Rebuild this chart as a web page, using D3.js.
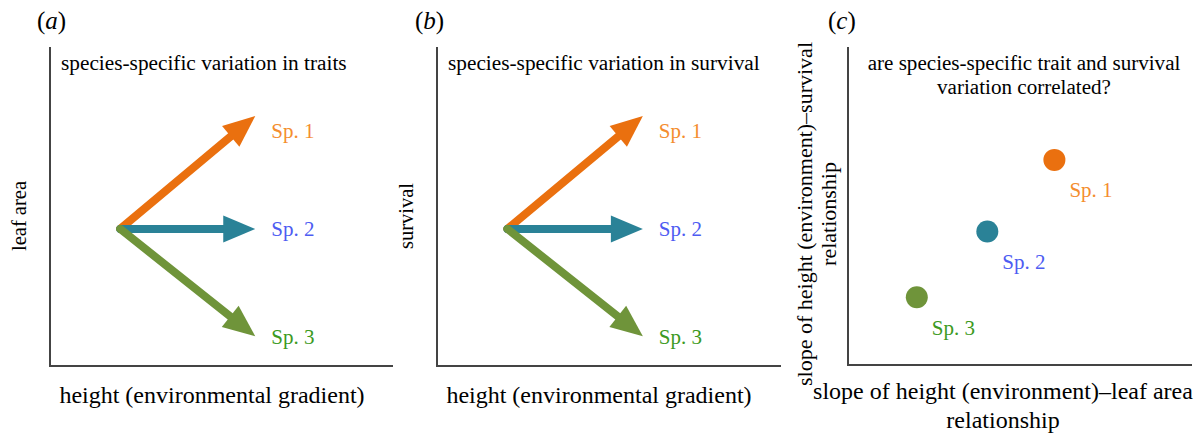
<!DOCTYPE html>
<html>
<head>
<meta charset="utf-8">
<script src="https://cdn.jsdelivr.net/npm/d3@7"></script>
<style>
  body { margin: 0; background: #fff; }
  svg text { font-family: "Liberation Serif", "DejaVu Serif", serif; }
</style>
</head>
<body>
<svg id="chart" width="1201" height="439"></svg>
<script>
// species and their colours
var species = ['Sp. 1', 'Sp. 2', 'Sp. 3'];
var arrowColors = ['#ea700f', '#2a8297', '#6f943a'];
var labelColors = ['#f48d2e', '#4e5cf2', '#3c9a22'];

// slope of trait / survival against height (arrow end points, start at 0,0)
var traitSlope = [1, 0, -0.95];
var survivalSlope = [1, 0, -0.95];

// panel (c): slope of leaf area vs slope of survival
var dotX = [6.0, 4.05, 2.0];
var dotY = [6.45, 4.2, 2.13];

var svg = d3.select('#chart');

function panelLetter(x, letter) {
    var t = svg.append('text').attr('x', x).attr('y', 29).attr('font-size', 25).attr('fill', '#000');
    t.append('tspan').text('(');
    t.append('tspan').attr('font-style', 'italic').text(letter);
    t.append('tspan').text(')');
}

function axesL(g, left, right, top, bottom) {
    g.append('path')
        .attr('d', 'M' + left + ',' + top + 'V' + bottom + 'H' + right)
        .attr('fill', 'none')
        .attr('stroke', '#444')
        .attr('stroke-width', 2);
}

function arrowPanel(left, right, title, yLabel, slopes, letterX, yLabelX) {
    var top = 47, bottom = 366;
    var g = svg.append('g');
    var x = d3.scaleLinear().domain([-0.52, 2.02]).range([left, right]);
    var y = d3.scaleLinear().domain([-1.213, 1.61]).range([bottom, top]);

    panelLetter(letterX, left === 50 ? 'a' : 'b');
    axesL(g, left, right, top, bottom);

    g.append('text').attr('x', left + 11).attr('y', 70)
        .attr('font-size', 21.3).attr('fill', '#000').text(title);

    g.append('text')
        .attr('transform', 'translate(' + yLabelX + ',' + 216 + ') rotate(-90)')
        .attr('text-anchor', 'middle').attr('font-size', 20.5).attr('fill', '#000')
        .text(yLabel);

    g.append('text').attr('x', left + 162).attr('y', 403)
        .attr('text-anchor', 'middle').attr('font-size', 24).attr('fill', '#000')
        .text('height (environmental gradient)');

    var headLen = 32, headHalf = 13.5;
    slopes.forEach(function (s, i) {
        var x0 = x(0), y0 = y(0), x1 = x(1), y1 = y(s);
        var ang = Math.atan2(y1 - y0, x1 - x0);
        var bx = x1 - headLen * Math.cos(ang), by = y1 - headLen * Math.sin(ang);
        g.append('line')
            .attr('x1', x0).attr('y1', y0)
            .attr('x2', bx + 2 * Math.cos(ang)).attr('y2', by + 2 * Math.sin(ang))
            .attr('stroke', arrowColors[i]).attr('stroke-width', 8)
            .attr('stroke-linecap', 'round');
        var px = -Math.sin(ang), py = Math.cos(ang);
        g.append('path')
            .attr('d', 'M' + x1 + ',' + y1 +
                'L' + (bx + px * headHalf) + ',' + (by + py * headHalf) +
                'L' + (bx - px * headHalf) + ',' + (by - py * headHalf) + 'Z')
            .attr('fill', arrowColors[i]);
        g.append('text')
            .attr('x', x1 + 16).attr('y', y(s) + (i === 0 ? 15 : 0))
            .attr('dy', '0.35em')
            .attr('font-size', 21).attr('fill', labelColors[i])
            .text(species[i]);
    });
}

arrowPanel(50, 393, 'species-specific variation in traits', 'leaf area', traitSlope, 37, 26);
arrowPanel(437, 781, 'species-specific variation in survival', 'survival', survivalSlope, 415, 413);

// panel (c)
(function () {
    var left = 848, right = 1192, top = 47, bottom = 365;
    var g = svg.append('g');
    var x = d3.scaleLinear().domain([0, 10]).range([left, right]);
    var y = d3.scaleLinear().domain([0, 10]).range([bottom, top]);

    panelLetter(828, 'c');
    axesL(g, left, right, top, bottom);

    g.append('text').attr('x', 1024).attr('y', 70)
        .attr('text-anchor', 'middle').attr('font-size', 21.1).attr('fill', '#000')
        .text('are species-specific trait and survival');
    g.append('text').attr('x', 1024).attr('y', 94)
        .attr('text-anchor', 'middle').attr('font-size', 21.1).attr('fill', '#000')
        .text('variation correlated?');

    var yl = g.append('text')
        .attr('transform', 'translate(812,214) rotate(-90)')
        .attr('text-anchor', 'middle').attr('font-size', 22).attr('fill', '#000');
    yl.append('tspan').attr('x', 0).attr('y', 0).text('slope of height (environment)\u2013survival');
    yl.append('tspan').attr('x', 0).attr('y', 24).text('relationship');

    g.append('text').attr('x', 1003).attr('y', 399)
        .attr('text-anchor', 'middle').attr('font-size', 24).attr('fill', '#000')
        .text('slope of height (environment)\u2013leaf area');
    g.append('text').attr('x', 1003).attr('y', 428)
        .attr('text-anchor', 'middle').attr('font-size', 24).attr('fill', '#000')
        .text('relationship');

    species.forEach(function (sp, i) {
        g.append('circle')
            .attr('cx', x(dotX[i])).attr('cy', y(dotY[i])).attr('r', 11)
            .attr('fill', arrowColors[i]);
        g.append('text')
            .attr('x', x(dotX[i]) + 15).attr('y', y(dotY[i]) + 30)
            .attr('dy', '0.35em')
            .attr('font-size', 21).attr('fill', labelColors[i])
            .text(sp);
    });
})();
</script>
</body>
</html>
